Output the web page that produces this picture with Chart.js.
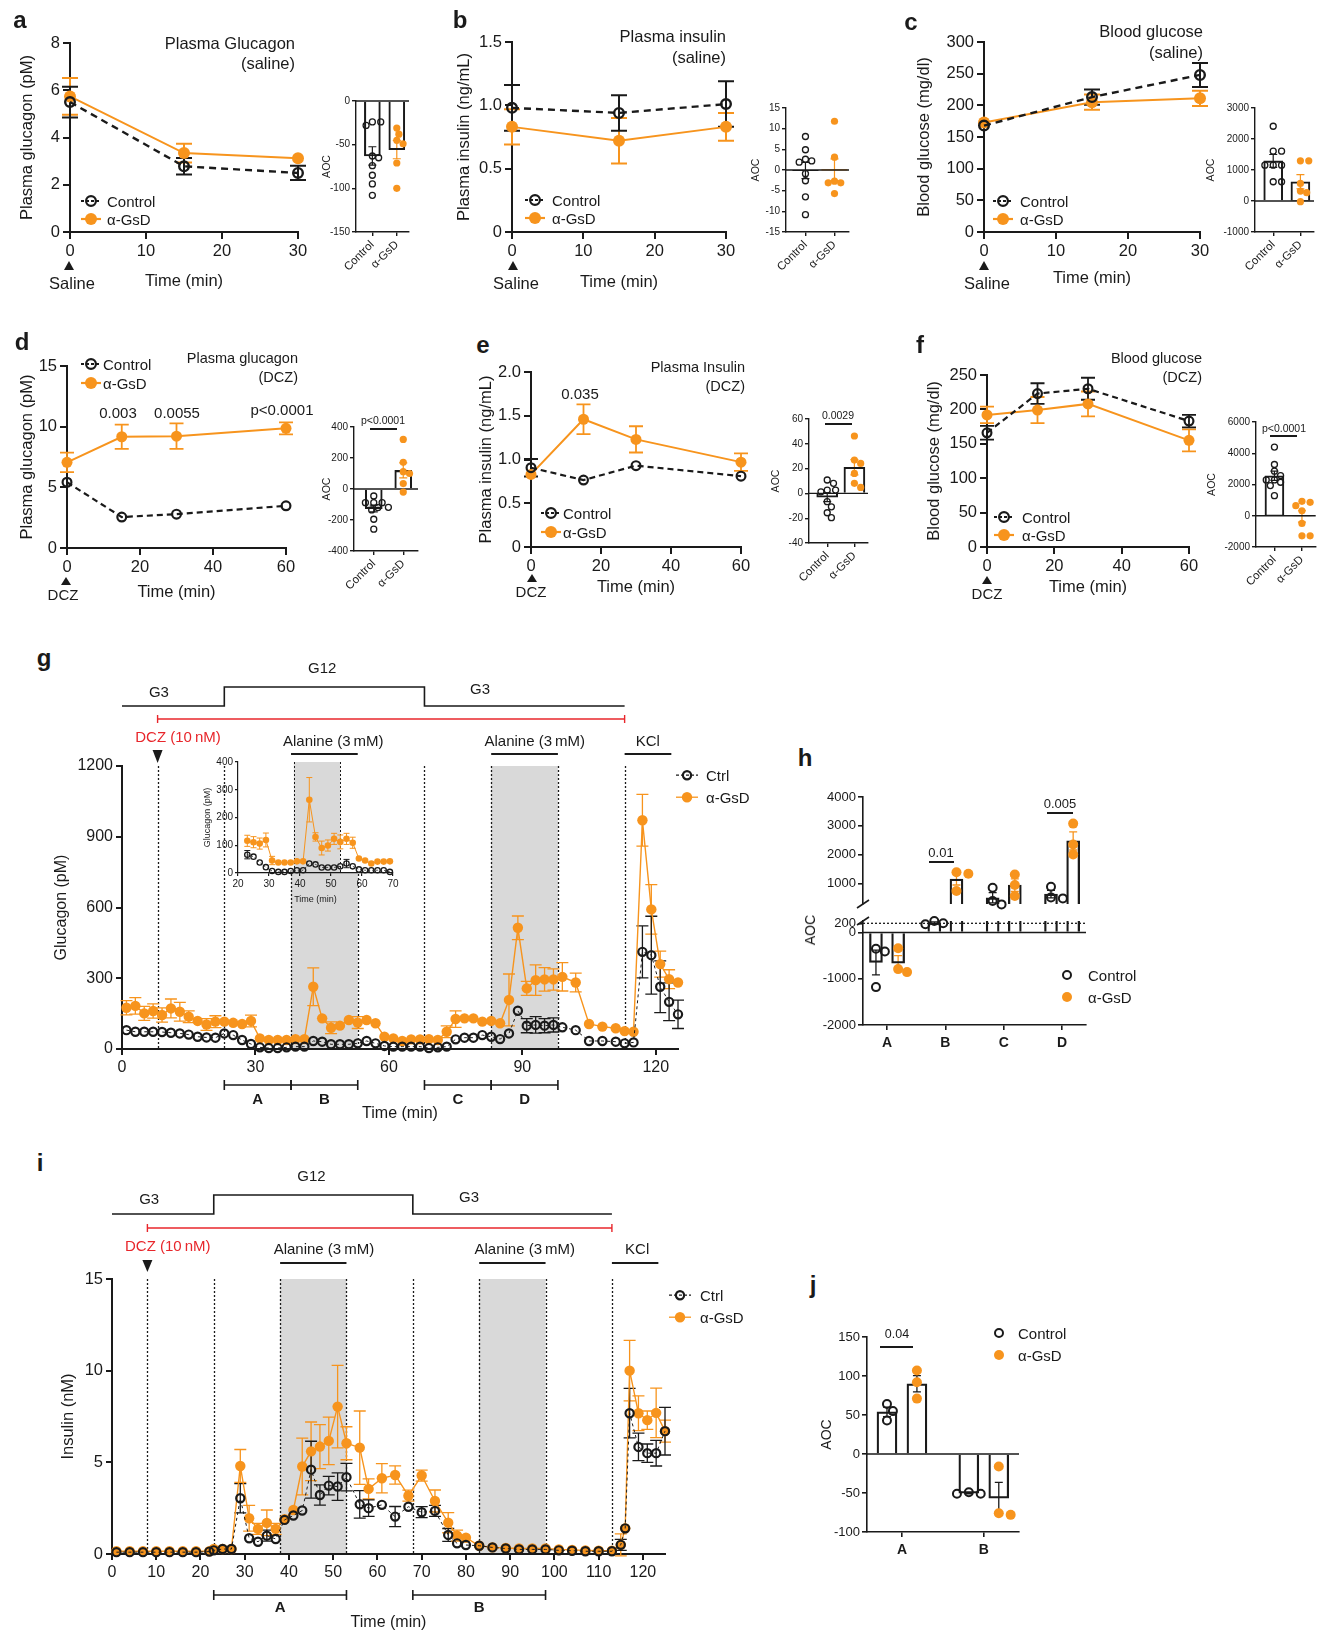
<!DOCTYPE html>
<html>
<head>
<meta charset="utf-8">
<title>alpha-GsD glucagon and insulin</title>
<script src="https://cdn.jsdelivr.net/npm/chart.js@4.4.1/dist/chart.umd.min.js"></script>
<style>
  body { margin: 0; background: #fff; }
  #page { position: relative; width: 1322px; height: 1632px; overflow: hidden; background: #fff;
          font-family: 'Liberation Sans', Arial, Helvetica, sans-serif; color: #1a1a1a; }
  #page canvas, #page svg { position: absolute; }
  .t { position: absolute; white-space: nowrap; line-height: 1; }
  .rule { position: absolute; height: 0; border-top: 2px solid #1a1a1a; }
</style>
</head>
<body>
<div id="page"></div>
<script>
// ---------- values ----------
// a-c: saline injection, sampled at 0/15/30 min (mean, SEM)
const tSaline = [0, 15, 30];
const aCtrl = [5.5, 2.78, 2.5],   aCtrlErr = [0.65, 0.35, 0.3];
const aGsd  = [5.74, 3.34, 3.12], aGsdErr  = [0.78, 0.4, 0.1];
const bCtrl = [0.98, 0.94, 1.01], bCtrlErr = [0.18, 0.14, 0.18];
const bGsd  = [0.83, 0.72, 0.83], bGsdErr  = [0.14, 0.18, 0.11];
const cCtrl = [168, 213, 248],    cCtrlErr = [5, 12, 19];
const cGsd  = [173, 205, 211],    cGsdErr  = [4, 12, 12];

// d-f: DCZ injection
const tDcz = [0, 15, 30, 60];
const dCtrl = [5.42, 2.55, 2.79, 3.48], dCtrlErr = [0.4, 0.1, 0.1, 0.1];
const dGsd  = [7.06, 9.17, 9.22, 9.86], dGsdErr  = [0.8, 1.0, 1.05, 0.5];
const eCtrl = [0.906, 0.765, 0.93, 0.81], eCtrlErr = [0.1, 0.05, 0.04, 0.06];
const eGsd  = [0.83, 1.46, 1.23, 0.97],   eGsdErr  = [0.05, 0.17, 0.15, 0.1];
const fCtrl = [166, 223, 230, 183], fCtrlErr = [10, 15, 16, 9];
const fGsd  = [192, 199, 208, 155], fGsdErr  = [12, 19, 18, 16];

// area over curve, one value per mouse
const aAocCtrl = [-24, -24, -28, -63, -65, -74, -85, -95, -108];
const aAocGsd  = [-31, -38, -45, -49, -71, -100];
const bAocCtrl = [8.1, 4.9, 2.6, 2.2, 1.9, -0.9, -2.6, -6.5, -10.8];
const bAocGsd  = [11.8, 3.1, -2.7, -3.1, -3.1, -5.7];
const cAocCtrl = [2411, 1607, 1607, 1157, 1157, 1157, 621, 621];
const cAocGsd  = [1296, 1296, 568, 321, 268, -21];
const dAocCtrl = [-45, -88, -88, -88, -118, -120, -135, -195, -259];
const dAocGsd  = [320, 172, 112, 100, 35, -20];
const eAocCtrl = [10.8, 8.1, 2.7, 2.7, 1.3, -6.7, -10.8, -15.6, -19.6];
const eAocGsd  = [46.3, 26.9, 24.2, 16.1, 8.1, 4.8];
const fAocCtrl = [4393, 3279, 2850, 2571, 2293, 2293, 2143, 1929, 1286];
const fAocGsd  = [921, 857, 643, 321, -493, -1286, -1286];

// g: islet perifusion, glucagon (pM)
const gTime = [1, 3, 5, 7, 9, 11, 13, 15, 17, 19, 21, 23, 25, 27, 29, 31, 33, 35, 37, 39,
  41, 43, 45, 47, 49, 51, 53, 55, 57, 59, 61, 63, 65, 67, 69, 71, 73, 75, 77, 79,
  81, 83, 85, 87, 89, 91, 93, 95, 97, 99, 102, 105, 108, 111, 113, 115, 117, 119, 121, 123, 125];
const gGsd = [175, 183, 151, 161, 144, 172, 158, 137, 119, 104, 116, 116, 111, 106, 119, 45, 38, 38, 38, 42,
  42, 264, 130, 90, 99, 123, 112, 123, 109, 52, 45, 34, 41, 41, 42, 38, 73, 127, 130, 130,
  116, 119, 109, 208, 514, 257, 292, 295, 295, 306, 282, 106, 95, 88, 76, 73, 970, 592, 360, 296, 282];
const gGsdErr = [30, 35, 30, 30, 30, 40, 40, 25, 15, 25, 25, 20, 20, 20, 25, 15, 10, 10, 10, 10,
  10, 80, 15, 25, 20, 20, 25, 20, 20, 10, 10, 10, 10, 10, 10, 10, 25, 35, 15, 15,
  15, 15, 15, 110, 50, 30, 65, 50, 45, 60, 40, 15, 10, 10, 10, 10, 110, 105, 55, 40, 20];
const gCtrl = [80, 73, 73, 73, 72, 69, 66, 61, 52, 49, 48, 66, 59, 38, 21, 7, 4, 4, 7, 10,
  10, 34, 31, 20, 20, 20, 24, 34, 24, 13, 10, 10, 10, 10, 4, 7, 10, 41, 48, 48,
  59, 52, 42, 66, 162, 99, 102, 99, 102, 92, 80, 34, 34, 31, 24, 28, 412, 398, 264, 200, 147];
const gCtrlErr = [8, 8, 8, 8, 8, 8, 8, 8, 8, 8, 8, 15, 8, 8, 8, 8, 8, 8, 8, 8,
  8, 10, 10, 8, 8, 8, 8, 15, 8, 8, 8, 8, 8, 8, 8, 8, 8, 15, 8, 8,
  15, 8, 8, 20, 15, 30, 35, 30, 30, 20, 8, 8, 8, 8, 8, 8, 110, 165, 110, 80, 60];

// i: islet perifusion, insulin (nM)
const iTime = [1, 4, 7, 10, 13, 16, 19, 22, 23, 25, 27, 29, 31, 33, 35, 37, 39, 41, 43, 45,
  47, 49, 51, 53, 56, 58, 61, 64, 67, 70, 73, 76, 78, 80, 83, 86, 89, 92, 95, 98,
  101, 104, 107, 110, 113, 115, 116, 117, 119, 121, 123, 125];
const iGsd = [0.15, 0.15, 0.15, 0.15, 0.15, 0.15, 0.15, 0.15, 0.27, 0.27, 0.27, 4.8, 1.95, 1.37, 1.7, 1.37, 1.9, 2.4, 4.77, 5.6,
  5.86, 6.17, 8.04, 6.04, 5.8, 3.55, 4.13, 4.31, 3.18, 4.28, 2.89, 1.71, 1.0, 0.89, 0.45, 0.36, 0.33, 0.3, 0.3, 0.3,
  0.25, 0.22, 0.2, 0.18, 0.18, 0.5, 1.4, 10.0, 7.68, 7.3, 7.7, 6.7];
const iGsdErr = [0.05, 0.05, 0.05, 0.05, 0.05, 0.05, 0.05, 0.05, 0.05, 0.05, 0.05, 0.9, 0.7, 0.3, 0.7, 0.3, 0.25, 0.2, 1.55, 1.6,
  1.2, 1.3, 2.25, 0.9, 2.0, 0.55, 0.8, 0.5, 0.3, 0.3, 0.6, 0.55, 0.3, 0.2, 0.1, 0.1, 0.1, 0.1, 0.1, 0.1,
  0.1, 0.1, 0.1, 0.1, 0.1, 0.6, 0.2, 1.65, 0.95, 0.5, 1.35, 0.6];
const iCtrl = [0.1, 0.1, 0.1, 0.1, 0.1, 0.1, 0.1, 0.13, 0.2, 0.27, 0.27, 3.04, 0.86, 0.67, 1.0, 0.82, 1.86, 2.1, 2.37, 4.6,
  3.22, 3.73, 3.68, 4.19, 2.71, 2.5, 2.68, 2.04, 2.58, 2.28, 2.35, 1.04, 0.58, 0.49, 0.45, 0.36, 0.3, 0.25, 0.25, 0.25,
  0.2, 0.18, 0.15, 0.15, 0.15, 0.5, 1.4, 7.68, 5.84, 5.5, 5.5, 6.7];
const iCtrlErr = [0.05, 0.05, 0.05, 0.05, 0.05, 0.05, 0.05, 0.05, 0.05, 0.05, 0.05, 0.8, 0.2, 0.2, 0.3, 0.15, 0.1, 0.1, 0.2, 1.55,
  0.55, 0.5, 0.75, 0.75, 0.75, 0.45, 0.2, 0.55, 0.2, 0.3, 0.3, 0.35, 0.15, 0.1, 0.05, 0.05, 0.05, 0.05, 0.05, 0.05,
  0.05, 0.05, 0.05, 0.05, 0.05, 0.3, 0.2, 1.35, 0.75, 0.5, 0.7, 1.3];

// perifusion protocol (min)
const protoGlu = [0, 23, 68, 113];
const protoDcz = [8, 113];
const protoAla = [[38, 53], [83, 98]];
const protoKcl = [113, 123.5];
const vLines = [8, 23, 38, 53, 68, 83, 98, 113];
const gWindows = [['A', 23, 38], ['B', 38, 53], ['C', 68, 83], ['D', 83, 98]];
const iWindows = [['A', 23, 53], ['B', 68, 98]];

// h, j: AOC per window, one value per perifusion
const hCats = ['A', 'B', 'C', 'D'];
const hCtrl = [[-350, -410, -1180], [180, 250, 200], [862, 287, 402], [897, 494, 529]];
const hGsd  = [[-338, -856, -791], [1400, 1345, 750], [1322, 954, 575], [3080, 2356, 2011]];
const jCats = ['A', 'B'];
const jCtrl = [[64, 55, 43], [-51, -49, -51]];
const jGsd  = [[107, 92, 71], [-16, -78, -76]];

// ---------- helpers ----------
const page = document.getElementById('page');
const INK = '#1a1a1a', ORANGE = '#f7941d', RED = '#e8262b', SHADE = '#d9d9d9', NONE = 'rgba(255,255,255,0)';
const FONT = "'Liberation Sans', Arial, Helvetica, sans-serif";
Chart.defaults.font.family = FONT;
Chart.defaults.color = INK;

const mean = a => a.reduce((s, v) => s + v, 0) / a.length;
const sem = a => { const m = mean(a); return Math.sqrt(a.reduce((s, v) => s + (v - m) ** 2, 0) / (a.length - 1) / a.length); };

function txt(x, y, s, o = {}) {
  const d = document.createElement('div');
  d.className = 't';
  d.textContent = s;
  d.style.fontSize = (o.size || 16) + 'px';
  if (o.bold) d.style.fontWeight = 'bold';
  if (o.color) d.style.color = o.color;
  const ax = o.align === 'right' ? '-100%' : o.align === 'left' ? '0' : '-50%';
  d.style.left = x + 'px';
  d.style.top = y + 'px';
  d.style.transform = `translate(${ax},-50%)` + (o.rot ? ` rotate(${o.rot}deg)` : '');
  page.appendChild(d);
}
function rule(x1, x2, y) {
  const d = document.createElement('div');
  d.className = 'rule';
  d.style.left = x1 + 'px'; d.style.top = (y - 1) + 'px'; d.style.width = (x2 - x1) + 'px';
  page.appendChild(d);
}
function tri(x, tip, w, h) {
  const d = document.createElement('div');
  d.style.cssText = `position:absolute;left:${x - w / 2}px;top:${tip}px;width:0;height:0;` +
    `border-left:${w / 2}px solid transparent;border-right:${w / 2}px solid transparent;border-bottom:${h}px solid ${INK};`;
  page.appendChild(d);
}
function legend(mx, y, tx, label, kind, o) {
  const w = o.line ? o.w : 2 * o.r + 4, h = 2 * o.r + 6;
  const col = kind === 'ctrl' ? INK : ORANGE;
  let s = `<svg xmlns="http://www.w3.org/2000/svg" width="${w}" height="${h}" style="left:${mx - w / 2}px;top:${y - h / 2}px">`;
  if (o.line) s += `<line x1="0" y1="${h / 2}" x2="${w}" y2="${h / 2}" stroke="${col}" stroke-width="${o.lw}"${kind === 'ctrl' ? ' stroke-dasharray="3,2"' : ''}/>`;
  s += kind === 'ctrl'
    ? `<circle cx="${w / 2}" cy="${h / 2}" r="${o.r - o.pbw / 2}" fill="none" stroke="${INK}" stroke-width="${o.pbw}"/>`
    : `<circle cx="${w / 2}" cy="${h / 2}" r="${o.r}" fill="${ORANGE}"/>`;
  page.insertAdjacentHTML('beforeend', s + '</svg>');
  txt(tx, y, label, { size: o.fs, align: 'left' });
}
function mkCanvas(area, m) {
  const c = document.createElement('canvas');
  const w = Math.round(area.r - area.l + m.l + m.r), h = Math.round(area.b - area.t + m.t + m.b);
  c.width = w; c.height = h;
  c.style.left = (area.l - m.l) + 'px'; c.style.top = (area.t - m.t) + 'px';
  c.style.width = w + 'px'; c.style.height = h + 'px';
  page.appendChild(c);
  return c;
}
// spread overlapping dots sideways (GraphPad-like scatter), returns x offsets in axis units
function swarm(vals, toPx, r, pxPerX) {
  const placed = [], off = vals.map(() => 0);
  vals.map((v, i) => i).sort((a, b) => vals[b] - vals[a]).forEach(i => {
    const py = toPx(vals[i]);
    for (let k = 0; k < 60; k++) {
      const dx = (k % 2 ? 1 : -1) * Math.ceil(k / 2) * r * 0.55;
      if (placed.every(q => Math.hypot(q.x - dx, q.y - py) >= 1.7 * r)) {
        placed.push({ x: dx, y: py }); off[i] = dx / pxPerX; return;
      }
    }
  });
  return off;
}

const ticksAt = list => s => { s.ticks = list.map(v => ({ value: v })); };
function axisY(o) {
  return {
    type: 'linear', position: 'left', min: o.min, max: o.max, offset: false, beginAtZero: false,
    afterBuildTicks: ticksAt(o.ticks),
    afterFit: s => { s.width = o.w; s.paddingTop = 0; s.paddingBottom = 0; },
    grid: { display: true, offset: false, drawOnChartArea: false, drawTicks: true, tickLength: o.tl, color: INK, lineWidth: o.lw },
    border: { display: true, color: INK, width: o.lw },
    ticks: { autoSkip: false, font: { size: o.fs }, color: INK, padding: o.pad ?? 3, callback: o.fmt || (v => String(v)) },
    title: { display: !!o.title, text: o.title || '', font: { size: o.tfs }, color: INK, padding: 0 }
  };
}
function axisX(o) {
  return {
    type: 'linear', position: 'bottom', min: o.min, max: o.max, offset: false, display: o.display !== false,
    afterBuildTicks: ticksAt(o.ticks || []),
    afterFit: s => { s.height = o.h || 0; s.paddingLeft = 0; s.paddingRight = 0; },
    grid: { display: true, offset: false, drawOnChartArea: false, drawTicks: true, tickLength: o.tl, color: INK, lineWidth: o.lw },
    border: { display: true, color: INK, width: o.lw },
    ticks: { autoSkip: false, font: { size: o.fs, weight: o.bold ? 'bold' : 'normal' }, color: INK, padding: o.pad ?? 3,
             minRotation: o.rot || 0, maxRotation: o.rot || 0, callback: o.fmt || (v => String(v)) },
    title: { display: !!o.title, text: o.title || '', font: { size: o.tfs }, color: INK, padding: 0 }
  };
}
function opts(m, x, y, plugins, showX = true) {
  return {
    responsive: false, maintainAspectRatio: false, animation: false, devicePixelRatio: 1, events: [],
    layout: { padding: { top: m.t, right: m.r, left: 0, bottom: showX ? 0 : m.b } },
    plugins: Object.assign({ legend: { display: false }, tooltip: { enabled: false } }, plugins),
    scales: { x, y }
  };
}

// error bars (and mean ticks) in data units
Chart.register({
  id: 'err',
  beforeDatasetsDraw(chart, args, o) {
    if (!o || !o.items) return;
    const { ctx, scales: { x, y } } = chart;
    ctx.save();
    ctx.setLineDash([]);
    o.items.forEach(it => {
      const px = x.getPixelForValue(it.x), py = y.getPixelForValue(it.y);
      ctx.strokeStyle = it.color; ctx.lineWidth = it.lw;
      ctx.beginPath();
      if (it.mean) { ctx.moveTo(px - it.mean, py); ctx.lineTo(px + it.mean, py); }
      const hi = y.getPixelForValue(it.y + it.e), lo = y.getPixelForValue(it.y - it.e);
      if (it.e && (lo - hi) / 2 > (it.minPx || 0)) {
        ctx.moveTo(px, hi); ctx.lineTo(px, lo);
        ctx.moveTo(px - it.cap, hi); ctx.lineTo(px + it.cap, hi);
        ctx.moveTo(px - it.cap, lo); ctx.lineTo(px + it.cap, lo);
      }
      ctx.stroke();
    });
    ctx.restore();
  }
});

function refPlugin(lines) {
  return {
    id: 'ref',
    beforeDatasetsDraw(chart) {
      const { ctx, chartArea: ca, scales: { y } } = chart;
      ctx.save(); ctx.strokeStyle = INK;
      lines.forEach(l => {
        const py = y.getPixelForValue(l.v);
        ctx.lineWidth = l.lw; ctx.setLineDash(l.dash || []);
        ctx.beginPath(); ctx.moveTo(ca.left, py); ctx.lineTo(ca.right, py); ctx.stroke();
      });
      ctx.restore();
    }
  };
}
function breakPlugin(atTop) {
  return {
    id: 'brk',
    afterDraw(chart) {
      const { ctx, chartArea: ca } = chart;
      const y = atTop ? ca.top : ca.bottom;
      ctx.save(); ctx.strokeStyle = INK; ctx.lineWidth = 1.6;
      ctx.beginPath(); ctx.moveTo(ca.left - 6, y + 4); ctx.lineTo(ca.left + 6, y - 4); ctx.stroke();
      ctx.restore();
    }
  };
}
function bandsPlugin(cfg) {
  return {
    id: 'bands',
    beforeDraw(chart) {
      const { ctx, chartArea: ca, scales: { x } } = chart;
      const X = v => x.getPixelForValue(v);
      ctx.save();
      if (cfg.bg) { ctx.fillStyle = cfg.bg; ctx.fillRect(ca.left, ca.top, ca.width, ca.height); }
      ctx.fillStyle = SHADE;
      cfg.shade.forEach(([a, b]) => ctx.fillRect(X(a), ca.top, X(b) - X(a), ca.height));
      ctx.strokeStyle = INK; ctx.lineWidth = cfg.lw; ctx.setLineDash(cfg.dash);
      cfg.lines.forEach(v => {
        const px = Math.round(X(v)) + 0.5;
        ctx.beginPath(); ctx.moveTo(px, ca.top); ctx.lineTo(px, ca.bottom); ctx.stroke();
      });
      ctx.restore();
    }
  };
}
function protocolPlugin(L, windows) {
  return {
    id: 'protocol',
    afterDraw(chart) {
      const { ctx, chartArea: ca, scales: { x } } = chart;
      const X = v => x.getPixelForValue(v), T = ca.top, B = ca.bottom;
      const line = (x1, y1, x2, y2) => { ctx.beginPath(); ctx.moveTo(x1, y1); ctx.lineTo(x2, y2); ctx.stroke(); };
      ctx.save();
      ctx.setLineDash([]);
      ctx.lineWidth = 1.6; ctx.strokeStyle = INK; ctx.fillStyle = INK;
      ctx.textAlign = 'center'; ctx.textBaseline = 'middle';
      ctx.font = `${L.fs}px ${FONT}`;
      const [g0, g1, g2, g3] = protoGlu.map(X);
      ctx.beginPath();
      ctx.moveTo(g0, T + L.low); ctx.lineTo(g1, T + L.low); ctx.lineTo(g1, T + L.high);
      ctx.lineTo(g2, T + L.high); ctx.lineTo(g2, T + L.low); ctx.lineTo(g3, T + L.low);
      ctx.stroke();
      L.gluText.forEach(([s, v, dy]) => ctx.fillText(s, X(v), T + dy));
      // DCZ exposure
      ctx.strokeStyle = RED; ctx.fillStyle = RED; ctx.lineWidth = 1.4;
      const [d0, d1] = protoDcz.map(X);
      line(d0, T + L.red, d1, T + L.red);
      line(d0, T + L.red - 4, d0, T + L.red + 4);
      line(d1, T + L.red - 4, d1, T + L.red + 4);
      ctx.fillText('DCZ (10\u2009nM)', X(L.dczX), T + L.dczY);
      ctx.fillStyle = INK;
      ctx.beginPath();
      ctx.moveTo(d0 - 5, T + L.arr[0]); ctx.lineTo(d0 + 5, T + L.arr[0]); ctx.lineTo(d0, T + L.arr[1]);
      ctx.closePath(); ctx.fill();
      // stimuli
      ctx.strokeStyle = INK; ctx.lineWidth = 2;
      protoAla.forEach(([a, b], k) => {
        line(X(a), T + L.bar, X(b), T + L.bar);
        ctx.fillText('Alanine (3\u2009mM)', X(L.alaX[k]), T + L.lab);
      });
      line(X(protoKcl[0]), T + L.bar, X(protoKcl[1]), T + L.bar);
      ctx.fillText('KCl', X(L.kclX), T + L.lab);
      // AOC windows
      ctx.lineWidth = 1.6;
      ctx.font = `bold ${L.fs}px ${FONT}`;
      windows.forEach(([s, a, b]) => {
        const y = B + L.brk;
        line(X(a), y, X(b), y); line(X(a), y - 5, X(a), y + 5); line(X(b), y - 5, X(b), y + 5);
        ctx.fillText(s, (X(a) + X(b)) / 2, B + L.brkText);
      });
      ctx.restore();
    }
  };
}

// ---------- chart builders ----------
function timeChart(p) {
  const cv = mkCanvas(p.area, p.m);
  const s = p.style, items = [];
  p.t.forEach((t, i) => {
    items.push({ x: t, y: p.gsd[i], e: p.gsdErr[i], color: ORANGE, lw: s.elw, cap: s.cap, minPx: s.r });
    items.push({ x: t, y: p.ctrl[i], e: p.ctrlErr[i], color: INK, lw: s.elw, cap: s.cap, minPx: s.r });
  });
  new Chart(cv, {
    type: 'scatter',
    data: { datasets: [
      { data: p.t.map((t, i) => ({ x: t, y: p.ctrl[i] })), showLine: true, borderColor: INK, borderWidth: s.clw,
        borderDash: s.dash, pointRadius: s.r - s.pbw / 2, pointBorderWidth: s.pbw, pointBorderColor: INK,
        pointBackgroundColor: NONE, clip: false },
      { data: p.t.map((t, i) => ({ x: t, y: p.gsd[i] })), showLine: true, borderColor: ORANGE, borderWidth: s.glw,
        pointRadius: s.r, pointBorderWidth: 0, pointBackgroundColor: ORANGE, pointBorderColor: ORANGE, clip: false }
    ] },
    options: opts(p.m, axisX(Object.assign({ h: p.m.b }, p.x)), axisY(Object.assign({ w: p.m.l }, p.y)), { err: { items } }),
    plugins: p.plugins || []
  });
}

const AOC_X = [0.33, 2.5];
function aocChart(p) {
  const cv = mkCanvas(p.area, p.m);
  const H = p.area.b - p.area.t, W = p.area.r - p.area.l, R = 3.6;
  const toPx = v => (v - p.y.min) / (p.y.max - p.y.min) * H;
  const pxPerX = W / (AOC_X[1] - AOC_X[0]);
  const oc = swarm(p.ctrl, toPx, R + 0.2, pxPerX), og = swarm(p.gsd, toPx, R + 0.2, pxPerX);
  const mc = mean(p.ctrl), mg = mean(p.gsd);
  const items = [
    { x: 1, y: mc, e: sem(p.ctrl), color: INK, lw: 1.2, cap: 4, mean: p.barW ? 0 : 13 },
    { x: 2, y: mg, e: sem(p.gsd), color: ORANGE, lw: 1.2, cap: 4, mean: p.barW ? 0 : 13 }
  ];
  const ds = [
    { data: p.ctrl.map((v, i) => ({ x: 1 + oc[i], y: v })), pointRadius: R - 0.6, pointBorderWidth: 1.3,
      pointBorderColor: INK, pointBackgroundColor: NONE, clip: false },
    { data: p.gsd.map((v, i) => ({ x: 2 + og[i], y: v })), pointRadius: R, pointBorderWidth: 0,
      pointBackgroundColor: ORANGE, clip: false }
  ];
  if (p.barW) ds.push({ type: 'bar', data: [{ x: 1, y: mc }, { x: 2, y: mg }], barThickness: p.barW,
    borderColor: INK, borderWidth: 1.4, backgroundColor: NONE, clip: 0 });
  new Chart(cv, {
    type: 'scatter',
    data: { datasets: ds },
    options: opts(p.m,
      axisX({ min: AOC_X[0], max: AOC_X[1], ticks: [1, 2], h: p.m.b, fs: 11.5, tl: 4, lw: 1.4, rot: 45, pad: 2,
              fmt: v => (v === 1 ? 'Control' : 'α-GsD') }),
      axisY({ min: p.y.min, max: p.y.max, ticks: p.y.ticks, w: p.m.l, fs: 10, tl: 4, lw: 1.4, pad: 2,
              title: 'AOC', tfs: 10.5 }),
      { err: { items } }),
    plugins: [refPlugin([{ v: 0, lw: 1.4 }])]
  });
}

function groupChart(p) {
  const cv = mkCanvas(p.area, p.m);
  const W = p.area.r - p.area.l, pxPerX = W / (p.xr[1] - p.xr[0]);
  const inSeg = v => v >= p.show[0] && v <= p.show[1];
  const ptsC = [], ptsG = [], bars = [], items = [];
  p.cats.forEach((c, k) => {
    [[p.ctrl[k], -p.off, ptsC, INK], [p.gsd[k], p.off, ptsG, p.gsdErrCol]].forEach(([vals, off, pts, col]) => {
      const cx = k + 1 + off, jit = swarm(vals, p.toPx, p.r + 0.4, pxPerX);
      vals.forEach((v, i) => { if (inSeg(v)) pts.push({ x: cx + jit[i], y: v }); });
      const m = mean(vals);
      bars.push({ x: cx, y: m });
      if (m >= p.y.min && m <= p.y.max) items.push({ x: cx, y: m, e: sem(vals), color: col, lw: 1.3, cap: 4 });
    });
  });
  new Chart(cv, {
    type: 'scatter',
    data: { datasets: [
      { data: ptsC, pointRadius: p.r - 1, pointBorderWidth: 2, pointBorderColor: INK, pointBackgroundColor: NONE, clip: false },
      { data: ptsG, pointRadius: p.r, pointBorderWidth: 0, pointBackgroundColor: ORANGE, clip: false },
      { type: 'bar', data: bars, barThickness: p.barW, borderColor: INK, borderWidth: 1.6, backgroundColor: NONE, clip: 0 }
    ] },
    options: opts(p.m,
      axisX({ min: p.xr[0], max: p.xr[1], ticks: p.showX ? p.cats.map((c, k) => k + 1) : [], display: p.showX,
              h: p.showX ? p.m.b : 0, fs: 14, bold: true, tl: 5, lw: 1.6, pad: 5, fmt: v => p.cats[v - 1] }),
      axisY({ min: p.y.min, max: p.y.max, ticks: p.y.ticks, w: p.m.l, fs: 13, tl: 5, lw: 1.6, pad: 2,
              title: p.title, tfs: 14 }),
      { err: { items } }, p.showX),
    plugins: p.plugins || []
  });
}

// ---------- a-f ----------
const S_BIG = { r: 6, pbw: 2.4, clw: 2.4, glw: 2, dash: [7, 5], elw: 2, cap: 8 };
const S_MID = { r: 5.5, pbw: 2.2, clw: 2.2, glw: 2, dash: [6, 4], elw: 1.8, cap: 7 };
const ax = (min, max, ticks, title, extra) => Object.assign({ min, max, ticks, title, fs: 16.5, tfs: 16.5, tl: 7, lw: 2 }, extra || {});
const dec1 = v => (v === 0 ? '0' : v.toFixed(1));

timeChart({ area: { l: 70, t: 43, r: 298, b: 232 }, m: { l: 52, t: 12, r: 15, b: 59 }, t: tSaline, style: S_BIG,
  ctrl: aCtrl, ctrlErr: aCtrlErr, gsd: aGsd, gsdErr: aGsdErr,
  x: ax(0, 30, [0, 10, 20, 30], 'Time (min)'), y: ax(0, 8, [0, 2, 4, 6, 8], 'Plasma glucagon (pM)') });
timeChart({ area: { l: 512, t: 42, r: 726, b: 232 }, m: { l: 57, t: 12, r: 15, b: 60 }, t: tSaline, style: S_BIG,
  ctrl: bCtrl, ctrlErr: bCtrlErr, gsd: bGsd, gsdErr: bGsdErr,
  x: ax(0, 30, [0, 10, 20, 30], 'Time (min)'), y: ax(0, 1.5, [0, 0.5, 1, 1.5], 'Plasma insulin (ng/mL)', { fmt: dec1 }) });
timeChart({ area: { l: 984, t: 42, r: 1200, b: 232 }, m: { l: 69, t: 12, r: 15, b: 56 }, t: tSaline, style: S_BIG,
  ctrl: cCtrl, ctrlErr: cCtrlErr, gsd: cGsd, gsdErr: cGsdErr,
  x: ax(0, 30, [0, 10, 20, 30], 'Time (min)'), y: ax(0, 300, [0, 50, 100, 150, 200, 250, 300], 'Blood glucose (mg/dl)') });
timeChart({ area: { l: 67, t: 366, r: 286, b: 548 }, m: { l: 49, t: 12, r: 15, b: 54 }, t: tDcz, style: S_MID,
  ctrl: dCtrl, ctrlErr: dCtrlErr, gsd: dGsd, gsdErr: dGsdErr,
  x: ax(0, 60, [0, 20, 40, 60], 'Time (min)'), y: ax(0, 15, [0, 5, 10, 15], 'Plasma glucagon (pM)') });
timeChart({ area: { l: 531, t: 372, r: 741, b: 547 }, m: { l: 54, t: 12, r: 15, b: 50 }, t: tDcz, style: S_MID,
  ctrl: eCtrl, ctrlErr: eCtrlErr, gsd: eGsd, gsdErr: eGsdErr,
  x: ax(0, 60, [0, 20, 40, 60], 'Time (min)'), y: ax(0, 2, [0, 0.5, 1, 1.5, 2], 'Plasma insulin (ng/mL)', { fmt: dec1 }) });
timeChart({ area: { l: 987, t: 375, r: 1189, b: 547 }, m: { l: 62, t: 12, r: 15, b: 50 }, t: tDcz, style: S_MID,
  ctrl: fCtrl, ctrlErr: fCtrlErr, gsd: fGsd, gsdErr: fGsdErr,
  x: ax(0, 60, [0, 20, 40, 60], 'Time (min)'), y: ax(0, 250, [0, 50, 100, 150, 200, 250], 'Blood glucose (mg/dl)') });

aocChart({ area: { l: 356, t: 101, r: 409, b: 232 }, m: { l: 35, t: 10, r: 8, b: 45 },
  y: { min: -150, max: 0, ticks: [-150, -100, -50, 0] }, ctrl: aAocCtrl, gsd: aAocGsd, barW: 16 });
aocChart({ area: { l: 786, t: 108, r: 849, b: 232 }, m: { l: 36, t: 10, r: 8, b: 45 },
  y: { min: -15, max: 15, ticks: [-15, -10, -5, 0, 5, 10, 15] }, ctrl: bAocCtrl, gsd: bAocGsd, barW: 0 });
aocChart({ area: { l: 1255, t: 108, r: 1314, b: 232 }, m: { l: 50, t: 10, r: 6, b: 45 },
  y: { min: -1000, max: 3000, ticks: [-1000, 0, 1000, 2000, 3000] }, ctrl: cAocCtrl, gsd: cAocGsd, barW: 19 });
aocChart({ area: { l: 354, t: 427, r: 418, b: 551 }, m: { l: 33, t: 10, r: 8, b: 45 },
  y: { min: -400, max: 400, ticks: [-400, -200, 0, 200, 400] }, ctrl: dAocCtrl, gsd: dAocGsd, barW: 17 });
aocChart({ area: { l: 809, t: 419, r: 868, b: 543 }, m: { l: 39, t: 10, r: 8, b: 45 },
  y: { min: -40, max: 60, ticks: [-40, -20, 0, 20, 40, 60] }, ctrl: eAocCtrl, gsd: eAocGsd, barW: 21 });
aocChart({ area: { l: 1256, t: 422, r: 1317, b: 547 }, m: { l: 50, t: 10, r: 4, b: 45 },
  y: { min: -2000, max: 6000, ticks: [-2000, 0, 2000, 4000, 6000] }, ctrl: fAocCtrl, gsd: fAocGsd, barW: 19 });

// ---------- g: glucagon perifusion + inset ----------
const S_PERI = { r: 5.2, pbw: 2.2, clw: 1, glw: 1.4, dash: [3, 3], elw: 1.3, cap: 6 };
const S_INSET = { r: 3.3, pbw: 1.3, clw: 0.8, glw: 1, dash: [2, 2], elw: 1, cap: 3 };
const G_LAYOUT = { fs: 15, low: -60, high: -79, gluText: [['G3', 8.3, -73], ['G12', 45, -97], ['G3', 80.5, -76]],
  red: -47, dczX: 12.6, dczY: -28, arr: [-16, -3], bar: -12, lab: -24, alaX: [47.5, 92.8], kclX: 118.2, brk: 36, brkText: 51 };
const I_LAYOUT = { fs: 15, low: -65, high: -84, gluText: [['G3', 8.4, -79], ['G12', 45.1, -102], ['G3', 80.7, -81]],
  red: -51, dczX: 12.6, dczY: -32, arr: [-19, -7], bar: -16, lab: -29, alaX: [47.9, 93.3], kclX: 118.7, brk: 41, brkText: 54 };

timeChart({ area: { l: 122, t: 766, r: 678, b: 1049 }, m: { l: 70, t: 116, r: 10, b: 74 }, t: gTime, style: S_PERI,
  ctrl: gCtrl, ctrlErr: gCtrlErr, gsd: gGsd, gsdErr: gGsdErr,
  x: { min: 0, max: 125, ticks: [0, 30, 60, 90, 120], fs: 16, tl: 6, lw: 2, title: 'Time (min)', tfs: 16 },
  y: { min: 0, max: 1200, ticks: [0, 300, 600, 900, 1200], fs: 16, tl: 6, lw: 2, title: 'Glucagon (pM)', tfs: 16 },
  plugins: [bandsPlugin({ shade: protoAla, lines: vLines, lw: 1.3, dash: [2, 2] }), protocolPlugin(G_LAYOUT, gWindows)] });

const inIdx = gTime.map((t, i) => i).filter(i => gTime[i] > 21 && gTime[i] < 70);
const pick = a => inIdx.map(i => a[i]);
timeChart({ area: { l: 238, t: 762, r: 393, b: 873 }, m: { l: 36, t: 8, r: 8, b: 32 }, t: pick(gTime), style: S_INSET,
  ctrl: pick(gCtrl), ctrlErr: pick(gCtrlErr), gsd: pick(gGsd), gsdErr: pick(gGsdErr),
  x: { min: 20, max: 70, ticks: [20, 30, 40, 50, 60, 70], fs: 10, tl: 3, lw: 1.2, pad: 2, title: 'Time (min)', tfs: 9 },
  y: { min: 0, max: 400, ticks: [0, 100, 200, 300, 400], fs: 10, tl: 3, lw: 1.2, pad: 2, title: 'Glucagon (pM)', tfs: 9 },
  plugins: [bandsPlugin({ bg: '#fff', shade: [protoAla[0]], lines: protoAla[0], lw: 1, dash: [2, 2] })] });

// ---------- h: glucagon AOC with broken axis ----------
const hPageY = v => (v > 250 ? 904 - (v - 300) * 107 / 3700 : 1025 - (v + 2000) * 104 / 2250);
const hCommon = { cats: hCats, ctrl: hCtrl, gsd: hGsd, off: 0.19, barW: 13, r: 5, xr: [0.588, 4.41],
  toPx: v => -hPageY(v), gsdErrCol: ORANGE };
groupChart(Object.assign({}, hCommon, { area: { l: 863, t: 797, r: 1086, b: 904 }, m: { l: 50, t: 10, r: 10, b: 8 },
  y: { min: 300, max: 4000, ticks: [1000, 2000, 3000, 4000] }, show: [251, 1e9], showX: false,
  plugins: [breakPlugin(false)] }));
groupChart(Object.assign({}, hCommon, { area: { l: 863, t: 921, r: 1086, b: 1025 }, m: { l: 50, t: 12, r: 10, b: 30 },
  y: { min: -2000, max: 250, ticks: [-2000, -1000, 0, 200] }, show: [-1e9, 250], showX: true,
  plugins: [refPlugin([{ v: 0, lw: 1.6 }, { v: 200, lw: 1.3, dash: [2, 2] }]), breakPlugin(true)] }));

// ---------- i: insulin perifusion ----------
timeChart({ area: { l: 112, t: 1279, r: 665, b: 1554 }, m: { l: 53, t: 130, r: 10, b: 78 }, t: iTime, style: S_PERI,
  ctrl: iCtrl, ctrlErr: iCtrlErr, gsd: iGsd, gsdErr: iGsdErr,
  x: { min: 0, max: 125, ticks: [0, 10, 20, 30, 40, 50, 60, 70, 80, 90, 100, 110, 120], fs: 16, tl: 6, lw: 2, title: 'Time (min)', tfs: 16 },
  y: { min: 0, max: 15, ticks: [0, 5, 10, 15], fs: 16.5, tl: 6, lw: 2, title: 'Insulin (nM)', tfs: 16.5 },
  plugins: [bandsPlugin({ shade: protoAla, lines: vLines, lw: 1.3, dash: [2, 2] }), protocolPlugin(I_LAYOUT, iWindows)] });

// ---------- j: insulin AOC ----------
groupChart({ cats: jCats, ctrl: jCtrl, gsd: jGsd, off: 0.183, barW: 20, r: 5, xr: [0.573, 2.43],
  toPx: v => v * 195 / 250, gsdErrCol: INK,
  area: { l: 867, t: 1337, r: 1019, b: 1532 }, m: { l: 48, t: 12, r: 10, b: 30 },
  y: { min: -100, max: 150, ticks: [-100, -50, 0, 50, 100, 150] }, show: [-1e9, 1e9], showX: true, title: 'AOC',
  plugins: [refPlugin([{ v: 0, lw: 1.6 }])] });

// ---------- text, legends, markers ----------
[['a', 20, 20], ['b', 460, 20], ['c', 911, 22], ['d', 22, 342], ['e', 483, 345], ['f', 920, 345],
 ['g', 44, 658], ['h', 805, 758], ['i', 40, 1163], ['j', 813, 1285]]
  .forEach(([s, x, y]) => txt(x, y, s, { size: 24, bold: true }));

txt(295, 43, 'Plasma Glucagon', { size: 16.5, align: 'right' }); txt(295, 63, '(saline)', { size: 16.5, align: 'right' });
txt(726, 36, 'Plasma insulin', { size: 16.5, align: 'right' });  txt(726, 57, '(saline)', { size: 16.5, align: 'right' });
txt(1203, 31, 'Blood glucose', { size: 16.5, align: 'right' });  txt(1203, 52, '(saline)', { size: 16.5, align: 'right' });
txt(298, 358, 'Plasma glucagon', { size: 14.5, align: 'right' }); txt(298, 377, '(DCZ)', { size: 14.5, align: 'right' });
txt(745, 367, 'Plasma Insulin', { size: 14.5, align: 'right' });  txt(745, 386, '(DCZ)', { size: 14.5, align: 'right' });
txt(1202, 358, 'Blood glucose', { size: 14.5, align: 'right' });  txt(1202, 377, '(DCZ)', { size: 14.5, align: 'right' });

[[69, 72], [513, 516], [984, 987]].forEach(([ax0, tx]) => { tri(ax0, 261, 10, 9); txt(tx, 283, 'Saline', { size: 16.5 }); });
[[66, 63, 577], [532, 531, 574], [987, 987, 576]].forEach(([ax0, tx, tip]) => { tri(ax0, tip, 10, 8); txt(tx, tip + 17, 'DCZ', { size: 15 }); });

txt(118, 412, '0.003', { size: 15 }); txt(177, 412, '0.0055', { size: 15 }); txt(282, 409, 'p<0.0001', { size: 15 });
txt(580, 393, '0.035', { size: 15 });
txt(383, 420, 'p<0.0001', { size: 10.5 }); rule(370, 397, 429);
txt(838, 415, '0.0029', { size: 10.5 });   rule(825, 852, 424);
txt(1284, 428, 'p<0.0001', { size: 10.5 }); rule(1270, 1297, 436);
txt(941, 852, '0.01', { size: 13 });  rule(929, 954, 862);
txt(1060, 803, '0.005', { size: 13 }); rule(1047, 1073, 813);
txt(897, 1334, '0.04', { size: 12.5 }); rule(880, 913, 1347);
txt(810, 930, 'AOC', { size: 14, rot: -90 });

const LG_MAIN = { r: 6, line: true, w: 20, lw: 2.2, pbw: 2.2, fs: 15 };
[[91, 107, 201, 219], [535, 552, 200, 218], [1003, 1020, 201, 219],
 [91, 103, 364, 383], [551, 563, 513, 532], [1004, 1022, 517, 535]].forEach(([mx, tx, y1, y2]) => {
  legend(mx, y1, tx, 'Control', 'ctrl', LG_MAIN);
  legend(mx, y2, tx, 'α-GsD', 'gsd', LG_MAIN);
});
const LG_PERI = { r: 5.2, line: true, w: 22, lw: 1.3, pbw: 2.2, fs: 15 };
legend(687, 775, 706, 'Ctrl', 'ctrl', LG_PERI);  legend(687, 797, 706, 'α-GsD', 'gsd', LG_PERI);
legend(680, 1295, 700, 'Ctrl', 'ctrl', LG_PERI); legend(680, 1317, 700, 'α-GsD', 'gsd', LG_PERI);
const LG_DOT = { r: 5, line: false, pbw: 2, fs: 15 };
legend(1067, 975, 1088, 'Control', 'ctrl', LG_DOT); legend(1067, 997, 1088, 'α-GsD', 'gsd', LG_DOT);
legend(999, 1333, 1018, 'Control', 'ctrl', LG_DOT); legend(999, 1355, 1018, 'α-GsD', 'gsd', LG_DOT);
</script>
</body>
</html>
